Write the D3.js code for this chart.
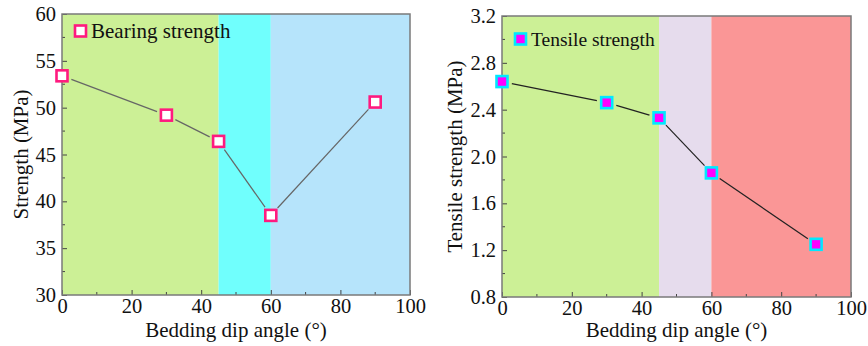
<!DOCTYPE html>
<html>
<head>
<meta charset="utf-8">
<script src="https://cdn.jsdelivr.net/npm/d3@7"></script>
<style>
  body { margin: 0; background: #fff; }
  svg text { font-family: "Liberation Serif", "DejaVu Serif", serif; fill: #111; }
</style>
</head>
<body>
<div id="chart-area"></div>
<script>
const angles = [0, 30, 45, 60, 90];
const bearing = [53.4, 49.2, 46.4, 38.5, 50.6];
const tensile = [2.64, 2.46, 2.33, 1.86, 1.25];

const bandsLeft = [
  { from: 0, to: 45, color: "#ccf096" },
  { from: 45, to: 60, color: "#70fffd" },
  { from: 60, to: 100, color: "#b6e4fb" }
];
const bandsRight = [
  { from: 0, to: 45, color: "#ccf096" },
  { from: 45, to: 60, color: "#e6dced" },
  { from: 60, to: 100, color: "#fa9696" }
];

const serif = "'Liberation Serif', 'DejaVu Serif', serif";

const svg = d3.select('#chart-area')
  .append('svg')
  .attr("width", 868)
  .attr("height", 346)
  .attr("font-family", serif);

function drawPanel(opt) {
  const x = d3.scaleLinear().domain([0, 100]).range([opt.left, opt.right]);
  const y = d3.scaleLinear().domain(opt.yDomain).range([opt.bottom, opt.top]);
  const g = svg.append("g");

  // background bands
  g.selectAll("rect.band")
    .data(opt.bands)
    .enter().append("rect")
    .attr("class", "band")
    .attr("x", d => x(d.from))
    .attr("width", d => x(d.to) - x(d.from))
    .attr("y", opt.top)
    .attr("height", opt.bottom - opt.top)
    .attr("fill", d => d.color);

  // minor ticks
  const xMinor = d3.range(10, 100, 20);
  g.selectAll("line.xminor").data(xMinor).enter().append("line")
    .attr("x1", d => x(d)).attr("x2", d => x(d))
    .attr("y1", opt.bottom).attr("y2", opt.bottom - 3)
    .attr("stroke", "#444").attr("stroke-width", 1);
  g.selectAll("line.yminor").data(opt.yMinor).enter().append("line")
    .attr("y1", d => y(d)).attr("y2", d => y(d))
    .attr("x1", opt.left).attr("x2", opt.left + 3)
    .attr("stroke", "#444").attr("stroke-width", 1);

  // axes (ticks pointing inward)
  const xAxis = g.append("g")
    .attr("transform", `translate(0,${opt.bottom})`)
    .call(d3.axisBottom(x).tickValues([0, 20, 40, 60, 80, 100]).tickSizeInner(-5).tickSizeOuter(0).tickPadding(3));
  xAxis.attr("font-family", serif);
  xAxis.select(".domain").remove();
  xAxis.selectAll("line").attr("stroke", "#444");
  xAxis.selectAll("text").attr("font-size", 20.5).attr("fill", "#111");

  const yAxis = g.append("g")
    .attr("transform", `translate(${opt.left},0)`)
    .call(d3.axisLeft(y).tickValues(opt.yTicks).tickFormat(opt.fmt).tickSizeInner(-5).tickSizeOuter(0).tickPadding(6));
  yAxis.attr("font-family", serif);
  yAxis.select(".domain").remove();
  yAxis.selectAll("line").attr("stroke", "#444");
  yAxis.selectAll("text").attr("font-size", 20.5).attr("fill", "#111");

  // frame
  g.append("rect")
    .attr("x", opt.left).attr("y", opt.top)
    .attr("width", opt.right - opt.left).attr("height", opt.bottom - opt.top)
    .attr("fill", "none").attr("stroke", "#7a7a7a").attr("stroke-width", 1.5);

  // line with small gaps at markers
  const pts = angles.map((a, i) => [x(a), y(opt.values[i])]);
  const gap = 10;
  const segs = [];
  for (let i = 0; i < pts.length - 1; i++) {
    const [x1, y1] = pts[i], [x2, y2] = pts[i + 1];
    const len = Math.hypot(x2 - x1, y2 - y1);
    const ux = (x2 - x1) / len, uy = (y2 - y1) / len;
    segs.push([x1 + ux * gap, y1 + uy * gap, x2 - ux * gap, y2 - uy * gap]);
  }
  g.selectAll("line.seg").data(segs).enter().append("line")
    .attr("x1", d => d[0]).attr("y1", d => d[1])
    .attr("x2", d => d[2]).attr("y2", d => d[3])
    .attr("stroke", opt.lineColor).attr("stroke-width", 1.2);

  // markers
  const s = 11;
  g.selectAll("rect.mk").data(angles).enter().append("rect")
    .attr("x", (d) => x(d) - s / 2)
    .attr("y", (d, i) => y(opt.values[i]) - s / 2)
    .attr("width", s).attr("height", s)
    .attr("fill", opt.mFill).attr("stroke", opt.mStroke).attr("stroke-width", 2.6);

  // legend
  g.append("rect")
    .attr("x", opt.left + 13).attr("y", opt.legendY - s / 2)
    .attr("width", s).attr("height", s)
    .attr("fill", opt.mFill).attr("stroke", opt.mStroke).attr("stroke-width", 2.6);
  g.append("text")
    .attr("x", opt.left + 29).attr("y", opt.legendY + 6.5)
    .attr("font-size", opt.legendSize)
    .text(opt.legend);

  // axis titles
  g.append("text")
    .attr("x", (opt.left + opt.right) / 2).attr("y", 337)
    .attr("text-anchor", "middle").attr("font-size", 21)
    .text("Bedding dip angle (°)");
  g.append("text")
    .attr("transform", `translate(${opt.yTitleX},${(opt.top + opt.bottom) / 2}) rotate(-90)`)
    .attr("text-anchor", "middle").attr("font-size", 21)
    .text(opt.yTitle);
}

drawPanel({
  left: 62, right: 410, top: 14, bottom: 295,
  yDomain: [30, 60], yTicks: [30, 35, 40, 45, 50, 55, 60], yMinor: d3.range(32.5, 60, 5),
  fmt: d3.format("d"),
  values: bearing, bands: bandsLeft,
  lineColor: "#666", mFill: "#ffffff", mStroke: "#ff1a7f",
  legend: "Bearing strength", legendY: 31, legendSize: 21,
  yTitle: "Strength (MPa)", yTitleX: 28
});

drawPanel({
  left: 502, right: 851, top: 16, bottom: 297,
  yDomain: [0.8, 3.2], yTicks: [0.8, 1.2, 1.6, 2.0, 2.4, 2.8, 3.2], yMinor: d3.range(1.0, 3.2, 0.4),
  fmt: d3.format(".1f"),
  values: tensile, bands: bandsRight,
  lineColor: "#222", mFill: "#ff00ff", mStroke: "#00e8ff",
  legend: "Tensile strength", legendY: 39, legendSize: 19.5,
  yTitle: "Tensile strength (MPa)", yTitleX: 462
});
</script>
</body>
</html>
